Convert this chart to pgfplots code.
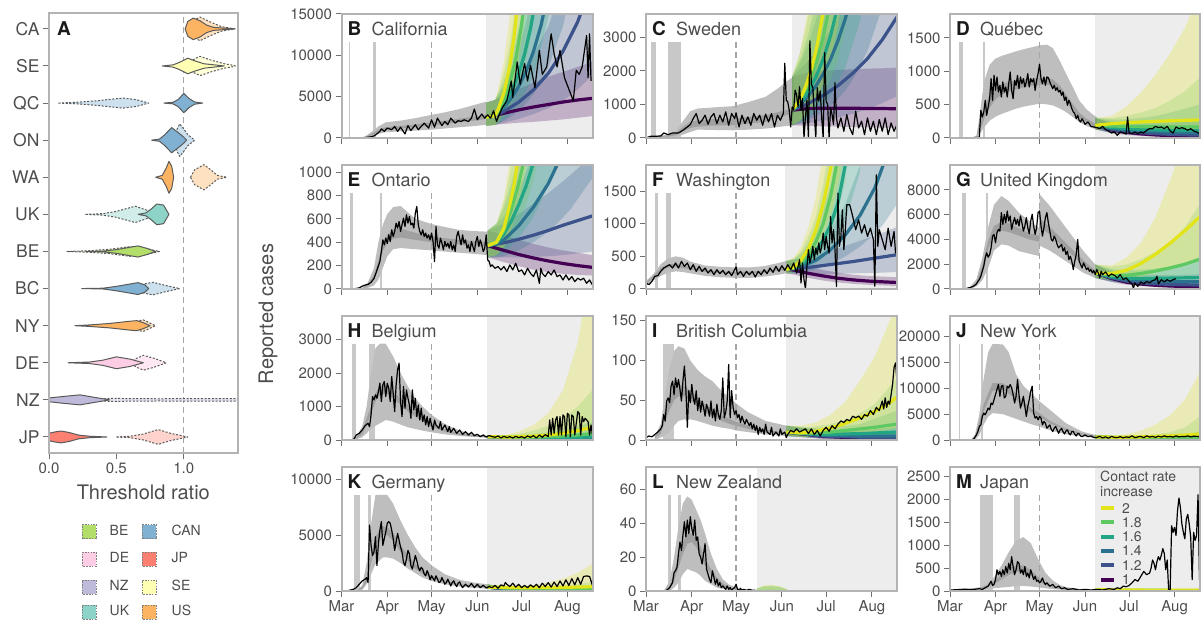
\documentclass[border=0pt]{standalone}
\usepackage{fontspec}
\setmainfont{TeX Gyre Heros}
\usepackage{pgfplots}
\usepackage{pgfplotstable}
\pgfplotsset{compat=1.18}

\definecolor{txt}{HTML}{4D4D4D}
\definecolor{titk}{HTML}{1A1A1A}
\definecolor{framec}{HTML}{B3B3B3}
\definecolor{tickc}{HTML}{707070}
\definecolor{projbg}{HTML}{EDEDED}
\definecolor{barc}{HTML}{C8C8C8}
\definecolor{bandout}{HTML}{BEBEBE}
\definecolor{bandin}{HTML}{A0A0A0}
\definecolor{dashc}{HTML}{A6A6A6}
\definecolor{vline}{HTML}{5A5A5A}
\definecolor{va}{HTML}{440154}
\definecolor{vb}{HTML}{3B528B}
\definecolor{vc}{HTML}{2C728E}
\definecolor{vd}{HTML}{21A585}
\definecolor{ve}{HTML}{5EC962}
\definecolor{vf}{HTML}{E2E418}
\definecolor{cBE}{HTML}{B3DE69}
\definecolor{cDE}{HTML}{FCCDE5}
\definecolor{cNZ}{HTML}{BEBADA}
\definecolor{cUK}{HTML}{8DD3C7}
\definecolor{cCAN}{HTML}{80B1D3}
\definecolor{cJP}{HTML}{FB8072}
\definecolor{cSE}{HTML}{FFFFB3}
\definecolor{cUS}{HTML}{FDB462}

\pgfplotsset{
  panel/.style={
    scale only axis, width=251pt, height=124pt, anchor=north west,
    xmin=0, xmax=170, ymin=0,
    axis on top,
    axis line style={draw=framec, line width=2pt},
    tick align=outside, major tick length=6pt,
    tick style={draw=tickc, line width=1pt},
    xtick={0,31,61,92,122,153}, xticklabels={},
    tick pos=left,
    scaled y ticks=false,
    tick label style={font=\fontsize{15}{15}\selectfont, text=txt},
    /pgf/number format/assume math mode=true,
    /pgf/number format/1000 sep={},
  },
  lastrow/.style={xticklabels={Mar,Apr,May,Jun,Jul,Aug}},
  vsol/.style={draw=vline, line width=1pt, line join=round},
  vdsh/.style={draw=vline, line width=1pt, line join=round, dash pattern=on 2pt off 1.6pt},
}

% build a closed band polygon table: upper edge forward, lower edge backward
\newcommand\mkpoly[4]{%
  \pgfplotstablesort[sort key=t, sort cmp=float <]{#4}{#1}%
  \pgfplotstablesort[sort key=t, sort cmp=float >]{\polyrev}{#1}%
  \pgfplotstablecreatecol[create col/copy=#3]{yy}{#4}%
  \pgfplotstablecreatecol[create col/copy=#2]{yy}{\polyrev}%
  \pgfplotstablevertcat{#4}{\polyrev}%
}
\newcommand\gb[3]{\mkpoly{#1}{olo}{ohi}{#2}\mkpoly{#1}{ilo}{ihi}{#3}}

\newcommand\pproj[2]{\addplot[draw=none, fill=projbg] coordinates {(#1,0) (170,0) (170,#2) (#1,#2)};}
\newcommand\pvbar[3]{\addplot[draw=none, fill=barc] coordinates {(#1,0) (#2,0) (#2,#3) (#1,#3)};}
\newcommand\pmay[1]{\addplot[dashc, line width=1.4pt, dash pattern=on 6pt off 4pt] coordinates {(61,0) (61,#1)};}
\newcommand\pband[2]{\addplot[fill=#2, draw=none] table[x=t,y=yy]{#1};}
\newcommand\pfb[2]{\addplot[fill=#2, fill opacity=0.25, draw=none] table[x=t,y=yy]{#1};}
\newcommand\pfl[2]{\addplot[#2, line width=3.2pt] table[x=t,y=v]{#1};}
\newcommand\pdl[1]{\addplot[black, line width=1.2pt, line join=round] table[x=t,y=v]{#1};}
\newcommand\ptitle[4]{%
  \node[anchor=base west, inner sep=0, font=\fontsize{19}{19}\selectfont\bfseries, text=titk] at ([xshift=6pt]#1pt,#2pt) {#3};
  \node[anchor=base west, inner sep=0, font=\fontsize{18}{18}\selectfont, text=txt] at ([xshift=30pt]#1pt,#2pt) {#4};}

% ================= DATA =================
% ---- B California
\pgfplotstableread[row sep=\\]{
t v\\ 0 0\\ 4 0\\ 8 0\\ 12 20\\ 16 50\\ 20 150\\ 22 250\\ 24 500\\ 26 800\\ 27 1100\\ 29 800\\ 31 1200\\ 34 1000\\ 36 1400\\ 38 800\\ 40 1300\\ 43 500\\ 45 1500\\ 47 900\\ 50 1600\\ 52 1000\\ 54 1400\\ 56 1800\\ 59 1200\\ 61 2200\\ 63 1300\\ 65 2400\\ 68 1500\\ 70 2000\\ 72 1600\\ 74 2400\\ 77 1800\\ 79 2100\\ 81 2000\\ 83 2200\\ 86 2000\\ 88 2400\\ 90 3500\\ 92 2200\\ 95 2900\\ 97 2400\\ 99 2800\\ 101 2400\\ 103 3300\\ 105 2000\\ 106 2450\\ 109 3700\\ 112 4500\\ 115 6900\\ 116 4900\\ 119 9200\\ 121 6500\\ 124 9000\\ 126 6900\\ 128 8800\\ 131 6100\\ 134 10600\\ 136 7700\\ 139 8600\\ 142 12600\\ 144 10200\\ 146 8600\\ 148 10600\\ 151 7300\\ 154 5900\\ 157 4500\\ 159 8200\\ 161 7700\\ 163 8600\\ 166 12400\\ 167 7300\\ 168 12600\\ 169 6900\\
}\dB
\pgfplotstableread[row sep=\\]{
t olo ohi ilo ihi\\ 12 0 0 0 0\\ 16 30 200 60 120\\ 20 200 700 300 450\\ 25 500 1400 750 1000\\ 30 700 1900 1000 1300\\ 40 800 2100 1150 1450\\ 50 900 2400 1300 1650\\ 61 1000 2800 1500 1900\\ 70 1150 3100 1700 2100\\ 80 1300 3500 1900 2350\\ 90 1450 4000 2100 2600\\ 98 1600 4400 2300 2800\\
}\bB
\pgfplotstableread[row sep=\\]{t v lo hi\\ 98 2500 1500 4300\\ 104 2700 1600 4600\\ 110 3000 1700 5100\\ 120 3400 1850 5900\\ 130 3750 1950 6700\\ 140 4050 2100 7400\\ 150 4350 2250 8000\\ 160 4600 2450 8600\\ 170 4800 2650 9200\\}\fBa
\pgfplotstableread[row sep=\\]{t v lo hi\\ 98 2500 1470 4250\\ 104 2700 1590 4590\\ 110 3230 1850 5500\\ 120 4330 2300 7400\\ 130 5820 2900 10000\\ 140 7810 3600 13500\\ 150 10480 4500 18500\\ 160 14070 5900 25000\\ 170 18900 7600 36000\\}\fBb
\pgfplotstableread[row sep=\\]{t v lo hi\\ 98 2500 1470 4250\\ 104 2700 1590 4590\\ 110 3720 2070 6300\\ 115 4820 2600 8300\\ 120 6240 3300 10800\\ 125 8080 4200 14000\\ 130 10450 5300 18000\\ 135 13530 6700 24000\\ 140 17500 8500 31000\\ 150 29000 13500 52000\\ 160 49000 22000 88000\\}\fBc
\pgfplotstableread[row sep=\\]{t v lo hi\\ 98 2500 1470 4250\\ 104 2700 1590 4590\\ 108 3520 2000 6000\\ 112 4590 2550 7800\\ 116 5980 3250 10200\\ 120 7790 4150 13200\\ 124 10150 5300 17300\\ 128 13240 6800 22500\\ 132 17200 8700 29000\\ 140 29000 14500 50000\\ 145 40000 19000 68000\\}\fBd
\pgfplotstableread[row sep=\\]{t v lo hi\\ 98 2500 1470 4250\\ 104 2700 1590 4590\\ 106 3230 1880 5500\\ 110 4640 2650 7900\\ 114 6650 3700 11300\\ 118 9540 5200 16200\\ 122 13700 7300 23300\\ 126 19600 10200 33300\\ 130 28000 14300 47600\\ 136 48000 24000 80000\\}\fBe
\pgfplotstableread[row sep=\\]{t v lo hi\\ 98 2500 1470 4250\\ 104 2700 1590 4590\\ 106 3420 1990 5800\\ 110 5460 3100 9300\\ 114 8710 4800 14800\\ 117 12400 6700 21000\\ 120 17600 9400 30000\\ 124 28000 14600 48000\\ 128 45000 23000 76000\\}\fBf
\gb{\bB}{\qBo}{\qBi}
\mkpoly{\fBa}{lo}{hi}{\qBa}\mkpoly{\fBb}{lo}{hi}{\qBb}\mkpoly{\fBc}{lo}{hi}{\qBc}\mkpoly{\fBd}{lo}{hi}{\qBd}\mkpoly{\fBe}{lo}{hi}{\qBe}\mkpoly{\fBf}{lo}{hi}{\qBf}

% ---- C Sweden
\pgfplotstableread[row sep=\\]{
t v\\ 0 0\\ 3 50\\ 6 50\\ 10 60\\ 12 150\\ 15 100\\ 18 150\\ 22 150\\ 25 230\\ 28 330\\ 30 400\\ 32 580\\ 34 730\\ 36 430\\ 38 530\\ 40 680\\ 42 410\\ 44 630\\ 46 730\\ 48 430\\ 50 680\\ 52 480\\ 54 780\\ 56 380\\ 58 730\\ 60 580\\ 61 750\\ 63 330\\ 65 680\\ 67 430\\ 69 630\\ 71 380\\ 73 730\\ 75 530\\ 77 680\\ 79 380\\ 81 710\\ 83 480\\ 85 730\\ 87 330\\ 89 680\\ 91 530\\ 93 730\\ 94 2230\\ 95 1130\\ 96 1080\\ 97 830\\ 98 330\\ 99 930\\ 100 830\\ 101 1430\\ 102 1280\\ 103 930\\ 104 1530\\ 105 830\\ 106 1180\\ 107 0\\ 108 630\\ 109 1130\\ 110 0\\ 111 2900\\ 112 1600\\ 113 1500\\ 114 700\\ 115 0\\ 116 1500\\ 117 1100\\ 118 1400\\ 119 600\\ 120 0\\ 121 2550\\ 122 1100\\ 123 1000\\ 124 0\\ 125 900\\ 126 700\\ 127 400\\ 128 1650\\ 129 600\\ 130 300\\ 132 600\\ 134 200\\ 136 700\\ 138 300\\ 140 100\\ 142 800\\ 144 300\\ 146 500\\ 148 100\\ 150 600\\ 152 200\\ 154 500\\ 156 100\\ 158 550\\ 160 200\\ 162 600\\ 164 100\\ 166 450\\ 168 200\\ 170 400\\
}\dC
\pgfplotstableread[row sep=\\]{
t olo ohi ilo ihi\\ 2 0 50 30 50\\ 15 0 80 40 80\\ 20 20 200 80 150\\ 25 100 500 200 330\\ 30 180 800 300 480\\ 35 250 880 340 530\\ 45 240 910 370 560\\ 59 230 950 380 580\\ 70 250 1080 430 630\\ 81 280 1230 480 680\\ 90 330 1500 600 780\\ 95 360 1680 680 830\\ 100 380 1830 720 880\\
}\bC
\pgfplotstableread[row sep=\\]{t v lo hi\\ 99 830 380 1830\\ 110 880 360 1950\\ 120 890 350 2000\\ 130 890 340 2030\\ 140 890 330 2050\\ 150 880 320 2070\\ 160 880 310 2080\\ 170 870 300 2100\\}\fCa
\pgfplotstableread[row sep=\\]{t v lo hi\\ 99 830 380 1830\\ 110 1030 450 2300\\ 120 1270 520 2900\\ 130 1560 610 3600\\ 140 1930 720 4500\\ 150 2370 860 5600\\ 160 2930 1040 7000\\ 170 3610 1250 8700\\}\fCb
\pgfplotstableread[row sep=\\]{t v lo hi\\ 99 830 380 1830\\ 105 1030 460 2300\\ 110 1260 550 2800\\ 115 1550 660 3500\\ 120 1910 800 4300\\ 125 2350 960 5300\\ 130 2900 1170 6500\\ 135 3560 1420 8000\\ 140 4400 1740 9900\\ 150 6700 2600 15000\\ 160 10200 3900 23000\\}\fCc
\pgfplotstableread[row sep=\\]{t v lo hi\\ 99 830 380 1830\\ 105 1080 480 2400\\ 110 1400 610 3100\\ 115 1810 780 4000\\ 120 2350 1000 5200\\ 125 3050 1280 6800\\ 130 3950 1640 8800\\ 135 5100 2100 11400\\ 145 8600 3500 19000\\ 150 11000 4400 25000\\}\fCd
\pgfplotstableread[row sep=\\]{t v lo hi\\ 99 830 380 1830\\ 104 1130 500 2500\\ 108 1440 630 3200\\ 112 1840 800 4100\\ 116 2350 1010 5200\\ 120 3000 1280 6700\\ 125 4100 1730 9200\\ 130 5600 2340 12500\\ 140 10400 4300 23000\\}\fCe
\pgfplotstableread[row sep=\\]{t v lo hi\\ 99 830 380 1830\\ 104 1120 500 2500\\ 108 1520 670 3400\\ 112 2050 890 4600\\ 116 2780 1200 6200\\ 120 3770 1610 8400\\ 125 5500 2330 12300\\ 130 8000 3360 17900\\ 135 11700 4800 26000\\}\fCf
\gb{\bC}{\qCo}{\qCi}
\mkpoly{\fCa}{lo}{hi}{\qCa}\mkpoly{\fCb}{lo}{hi}{\qCb}\mkpoly{\fCc}{lo}{hi}{\qCc}\mkpoly{\fCd}{lo}{hi}{\qCd}\mkpoly{\fCe}{lo}{hi}{\qCe}\mkpoly{\fCf}{lo}{hi}{\qCf}

% ---- D Quebec
\pgfplotstableread[row sep=\\]{
t v\\ 0 0\\ 10 0\\ 16 5\\ 19 10\\ 20 15\\ 21 415\\ 22 315\\ 23 390\\ 24 565\\ 25 340\\ 26 465\\ 27 590\\ 28 890\\ 29 565\\ 30 940\\ 31 715\\ 32 915\\ 33 690\\ 34 790\\ 35 615\\ 36 840\\ 37 690\\ 38 765\\ 39 615\\ 40 815\\ 41 990\\ 42 715\\ 43 590\\ 44 865\\ 45 790\\ 46 940\\ 47 740\\ 48 915\\ 49 815\\ 50 890\\ 51 765\\ 52 840\\ 53 965\\ 54 765\\ 55 890\\ 56 840\\ 57 890\\ 58 715\\ 59 865\\ 60 965\\ 61 1105\\ 62 890\\ 63 815\\ 64 915\\ 65 790\\ 66 915\\ 67 905\\ 68 840\\ 69 790\\ 70 740\\ 71 790\\ 72 715\\ 73 755\\ 74 690\\ 75 715\\ 76 640\\ 77 690\\ 78 565\\ 79 615\\ 80 490\\ 81 565\\ 82 515\\ 83 440\\ 84 390\\ 85 365\\ 86 290\\ 87 340\\ 88 265\\ 89 240\\ 90 290\\ 92 205\\ 94 240\\ 96 175\\ 98 165\\ 100 155\\ 102 140\\ 104 175\\ 106 125\\ 108 105\\ 110 75\\ 112 90\\ 114 40\\ 116 90\\ 118 80\\ 120 60\\ 121 315\\ 122 80\\ 124 65\\ 126 90\\ 128 65\\ 130 90\\ 132 75\\ 134 115\\ 136 140\\ 138 140\\ 140 175\\ 142 155\\ 144 165\\ 146 140\\ 148 175\\ 150 105\\ 152 75\\ 154 165\\ 156 140\\ 158 155\\ 160 140\\ 162 115\\ 164 140\\ 166 105\\ 168 90\\ 170 65\\
}\dD
\pgfplotstableread[row sep=\\]{
t olo ohi ilo ihi\\ 14 0 0 0 0\\ 18 5 30 10 20\\ 20 50 300 120 200\\ 22 120 650 200 350\\ 24 180 900 330 500\\ 27 260 1100 450 650\\ 31 320 1190 580 750\\ 35 360 1230 650 800\\ 40 400 1265 700 840\\ 45 440 1300 730 860\\ 50 470 1330 760 880\\ 61 515 1390 800 900\\ 66 505 1400 800 900\\ 70 490 1350 780 880\\ 75 440 1150 680 780\\ 79 390 965 550 650\\ 84 310 750 420 500\\ 88 240 565 300 380\\ 93 180 430 230 290\\ 98 140 340 170 230\\ 100 130 315 160 210\\
}\bD
\pgfplotstableread[row sep=\\]{t v lo hi\\ 99 190 130 300\\ 110 120 70 210\\ 120 85 45 160\\ 130 62 30 125\\ 140 46 22 100\\ 150 35 15 85\\ 160 27 11 70\\ 170 22 9 60\\}\fDa
\pgfplotstableread[row sep=\\]{t v lo hi\\ 99 190 130 300\\ 110 130 75 230\\ 120 100 55 190\\ 130 80 40 165\\ 140 65 30 150\\ 150 55 25 140\\ 160 48 20 130\\ 170 42 18 125\\}\fDb
\pgfplotstableread[row sep=\\]{t v lo hi\\ 99 190 130 300\\ 110 145 85 250\\ 120 120 65 230\\ 130 105 55 220\\ 140 95 45 220\\ 150 88 40 230\\ 160 82 35 250\\ 170 78 30 280\\}\fDc
\pgfplotstableread[row sep=\\]{t v lo hi\\ 99 190 130 300\\ 110 160 95 280\\ 120 140 80 280\\ 130 130 70 300\\ 140 122 60 330\\ 150 116 55 380\\ 160 112 50 440\\ 170 110 45 500\\}\fDd
\pgfplotstableread[row sep=\\]{t v lo hi\\ 99 190 130 300\\ 110 180 110 300\\ 120 175 100 330\\ 130 170 90 380\\ 140 168 80 450\\ 150 166 75 560\\ 160 165 70 700\\ 170 165 65 900\\}\fDe
\pgfplotstableread[row sep=\\]{t v lo hi\\ 99 190 130 300\\ 110 215 130 330\\ 120 230 120 470\\ 130 240 110 680\\ 140 250 105 950\\ 150 258 100 1270\\ 160 265 95 1650\\ 170 270 90 2150\\}\fDf
\gb{\bD}{\qDo}{\qDi}
\mkpoly{\fDa}{lo}{hi}{\qDa}\mkpoly{\fDb}{lo}{hi}{\qDb}\mkpoly{\fDc}{lo}{hi}{\qDc}\mkpoly{\fDd}{lo}{hi}{\qDd}\mkpoly{\fDe}{lo}{hi}{\qDe}\mkpoly{\fDf}{lo}{hi}{\qDf}

% ---- E Ontario
\pgfplotstableread[row sep=\\]{
t v\\ 0 0\\ 8 0\\ 12 10\\ 15 30\\ 18 40\\ 20 57\\ 22 90\\ 24 160\\ 26 235\\ 27 320\\ 28 420\\ 29 377\\ 30 435\\ 31 390\\ 32 463\\ 33 406\\ 34 506\\ 35 449\\ 36 492\\ 37 563\\ 38 520\\ 39 577\\ 40 492\\ 41 549\\ 42 606\\ 43 535\\ 44 635\\ 45 563\\ 46 620\\ 47 549\\ 48 563\\ 49 520\\ 50 649\\ 51 706\\ 52 549\\ 53 492\\ 54 463\\ 55 506\\ 56 449\\ 57 478\\ 58 435\\ 59 463\\ 60 420\\ 61 478\\ 62 406\\ 63 235\\ 64 535\\ 65 377\\ 66 349\\ 67 435\\ 68 392\\ 69 335\\ 70 406\\ 71 363\\ 72 392\\ 73 349\\ 74 406\\ 75 335\\ 76 377\\ 77 320\\ 78 449\\ 79 492\\ 80 435\\ 81 377\\ 82 463\\ 83 392\\ 84 420\\ 85 349\\ 86 377\\ 87 320\\ 88 406\\ 89 363\\ 90 320\\ 91 406\\ 92 449\\ 93 363\\ 94 420\\ 95 377\\ 96 320\\ 97 349\\ 98 463\\ 99 249\\ 100 235\\ 101 192\\ 102 206\\ 104 177\\ 106 192\\ 108 163\\ 110 192\\ 112 149\\ 114 206\\ 116 163\\ 118 220\\ 120 149\\ 122 163\\ 124 120\\ 126 177\\ 128 134\\ 130 106\\ 132 163\\ 134 49\\ 135 177\\ 136 134\\ 138 106\\ 140 149\\ 142 120\\ 144 163\\ 146 106\\ 148 120\\ 150 77\\ 152 120\\ 154 77\\ 156 106\\ 158 63\\ 160 92\\ 162 77\\ 164 92\\ 166 49\\ 168 77\\ 170 34\\
}\dE
\pgfplotstableread[row sep=\\]{
t olo ohi ilo ihi\\ 14 0 10 0 5\\ 18 10 60 25 40\\ 22 30 180 80 120\\ 25 80 400 180 240\\ 28 180 550 330 400\\ 31 280 640 390 460\\ 35 340 700 430 510\\ 40 350 710 440 515\\ 50 340 600 420 480\\ 61 330 555 400 450\\ 70 320 530 390 435\\ 80 310 505 380 420\\ 90 300 495 370 410\\ 99 290 490 360 400\\
}\bE
\pgfplotstableread[row sep=\\]{t v lo hi\\ 99 370 270 500\\ 110 330 230 460\\ 120 295 195 420\\ 130 265 165 385\\ 140 240 145 355\\ 150 218 130 330\\ 160 200 120 310\\ 170 185 115 290\\}\fEa
\pgfplotstableread[row sep=\\]{t v lo hi\\ 99 370 270 500\\ 110 395 270 560\\ 120 425 270 640\\ 130 460 275 730\\ 140 500 280 820\\ 150 545 290 920\\ 160 585 305 1030\\ 170 625 320 1150\\}\fEb
\pgfplotstableread[row sep=\\]{t v lo hi\\ 99 370 270 500\\ 105 385 270 550\\ 110 420 280 620\\ 120 540 330 850\\ 130 700 400 1150\\ 140 900 490 1550\\ 146 1060 560 1850\\ 155 1350 680 2400\\ 170 2000 950 4000\\}\fEc
\pgfplotstableread[row sep=\\]{t v lo hi\\ 99 370 270 500\\ 105 395 280 560\\ 110 470 310 700\\ 115 580 370 900\\ 120 720 440 1150\\ 125 880 520 1450\\ 130 1080 620 1850\\ 140 1600 880 2800\\ 150 2400 1250 4400\\}\fEd
\pgfplotstableread[row sep=\\]{t v lo hi\\ 99 370 270 500\\ 105 400 290 560\\ 110 500 340 740\\ 115 680 440 1050\\ 120 900 560 1450\\ 124 1120 680 1850\\ 130 1600 930 2700\\ 140 2700 1500 4700\\}\fEe
\pgfplotstableread[row sep=\\]{t v lo hi\\ 99 370 270 500\\ 105 400 290 560\\ 110 520 360 780\\ 114 720 480 1100\\ 117 900 590 1400\\ 120 1150 730 1800\\ 125 1700 1050 2700\\ 130 2500 1500 4000\\}\fEf
\gb{\bE}{\qEo}{\qEi}
\mkpoly{\fEa}{lo}{hi}{\qEa}\mkpoly{\fEb}{lo}{hi}{\qEb}\mkpoly{\fEc}{lo}{hi}{\qEc}\mkpoly{\fEd}{lo}{hi}{\qEd}\mkpoly{\fEe}{lo}{hi}{\qEe}\mkpoly{\fEf}{lo}{hi}{\qEf}

% ---- F Washington
\pgfplotstableread[row sep=\\]{
t v\\ 0 92\\ 2 66\\ 4 117\\ 6 194\\ 8 204\\ 10 270\\ 12 321\\ 14 347\\ 16 372\\ 18 321\\ 20 398\\ 22 321\\ 24 423\\ 26 347\\ 28 398\\ 30 296\\ 32 372\\ 34 270\\ 36 347\\ 38 270\\ 40 321\\ 42 245\\ 44 296\\ 46 219\\ 48 296\\ 50 235\\ 52 286\\ 54 219\\ 56 270\\ 58 204\\ 60 296\\ 61 337\\ 62 219\\ 64 270\\ 66 194\\ 68 270\\ 70 219\\ 72 270\\ 74 184\\ 76 270\\ 78 219\\ 80 296\\ 82 235\\ 84 321\\ 86 255\\ 88 347\\ 90 270\\ 92 357\\ 94 286\\ 96 372\\ 98 296\\ 100 398\\ 102 245\\ 104 449\\ 105 92\\ 106 398\\ 107 143\\ 108 0\\ 109 347\\ 110 602\\ 111 398\\ 112 500\\ 113 653\\ 114 449\\ 115 627\\ 116 525\\ 117 704\\ 118 551\\ 119 653\\ 120 857\\ 121 602\\ 122 806\\ 123 653\\ 124 551\\ 125 1112\\ 126 704\\ 127 908\\ 128 602\\ 129 40\\ 130 1469\\ 131 653\\ 132 806\\ 133 1214\\ 134 602\\ 135 908\\ 136 1290\\ 138 1290\\ 140 1112\\ 142 908\\ 144 1061\\ 146 857\\ 148 984\\ 150 806\\ 152 933\\ 154 755\\ 155 40\\ 156 1750\\ 157 653\\ 158 908\\ 160 755\\ 162 602\\ 164 933\\ 166 653\\ 168 882\\ 169 551\\ 170 602\\
}\dF
\pgfplotstableread[row sep=\\]{
t olo ohi ilo ihi\\ 0 60 120 80 100\\ 5 130 230 170 200\\ 10 200 380 270 320\\ 15 250 470 330 380\\ 20 270 500 340 385\\ 25 260 480 320 360\\ 30 240 420 300 340\\ 40 200 360 260 290\\ 50 180 340 240 270\\ 61 170 330 230 260\\ 70 170 330 235 265\\ 80 190 350 250 280\\ 90 220 400 280 310\\ 95 240 430 290 320\\
}\bF
\pgfplotstableread[row sep=\\]{t v lo hi\\ 95 300 240 430\\ 100 290 220 400\\ 110 240 170 340\\ 120 200 130 290\\ 130 165 100 250\\ 140 140 80 220\\ 150 122 65 200\\ 160 110 55 190\\ 170 100 45 180\\}\fFa
\pgfplotstableread[row sep=\\]{t v lo hi\\ 95 300 240 430\\ 110 330 230 480\\ 120 360 230 540\\ 130 390 235 620\\ 140 420 240 700\\ 150 455 245 780\\ 160 490 250 860\\ 170 525 260 950\\}\fFb
\pgfplotstableread[row sep=\\]{t v lo hi\\ 95 300 240 430\\ 105 340 250 480\\ 115 440 300 650\\ 125 600 380 900\\ 135 830 500 1300\\ 145 1130 650 1900\\ 155 1550 850 2700\\ 161 1920 1000 3300\\ 170 2600 1300 4600\\}\fFc
\pgfplotstableread[row sep=\\]{t v lo hi\\ 95 300 240 430\\ 100 320 250 460\\ 105 370 270 540\\ 110 460 320 700\\ 115 580 390 900\\ 120 750 480 1200\\ 125 980 600 1600\\ 130 1320 780 2200\\ 135 1900 1050 3300\\ 145 3500 1800 6000\\}\fFd
\pgfplotstableread[row sep=\\]{t v lo hi\\ 95 300 240 430\\ 100 320 250 460\\ 105 400 290 580\\ 110 530 360 800\\ 115 720 470 1100\\ 120 1000 630 1600\\ 125 1420 860 2300\\ 129 1900 1120 3100\\ 135 2900 1650 4900\\}\fFe
\pgfplotstableread[row sep=\\]{t v lo hi\\ 95 300 240 430\\ 100 330 260 480\\ 105 440 320 650\\ 110 620 430 950\\ 115 900 600 1400\\ 120 1300 830 2100\\ 126 1950 1200 3200\\ 132 3000 1800 5000\\}\fFf
\gb{\bF}{\qFo}{\qFi}
\mkpoly{\fFa}{lo}{hi}{\qFa}\mkpoly{\fFb}{lo}{hi}{\qFb}\mkpoly{\fFc}{lo}{hi}{\qFc}\mkpoly{\fFd}{lo}{hi}{\qFd}\mkpoly{\fFe}{lo}{hi}{\qFe}\mkpoly{\fFf}{lo}{hi}{\qFf}

% ---- G United Kingdom
\pgfplotstableread[row sep=\\]{
t v\\ 0 0\\ 10 0\\ 14 135\\ 16 216\\ 18 405\\ 19 620\\ 20 756\\ 21 1026\\ 22 1431\\ 23 1836\\ 24 2511\\ 25 2916\\ 26 2565\\ 27 2781\\ 28 3321\\ 29 4266\\ 30 4401\\ 31 3726\\ 32 4536\\ 33 4806\\ 34 4671\\ 35 6156\\ 36 5211\\ 37 6021\\ 38 5346\\ 39 6291\\ 40 5481\\ 41 5886\\ 42 4806\\ 43 5346\\ 44 5751\\ 45 5211\\ 46 5616\\ 47 5076\\ 48 5886\\ 49 5346\\ 50 4671\\ 51 5076\\ 52 5751\\ 53 4941\\ 54 4455\\ 55 5481\\ 56 6021\\ 57 5076\\ 58 4401\\ 59 4941\\ 60 6156\\ 61 6291\\ 62 5076\\ 63 4266\\ 64 4941\\ 65 5751\\ 66 6156\\ 67 5346\\ 68 4671\\ 69 3996\\ 70 3861\\ 71 4266\\ 72 3996\\ 73 3591\\ 74 3321\\ 75 3456\\ 76 3591\\ 77 3051\\ 78 3321\\ 79 2781\\ 80 3051\\ 81 2376\\ 82 2646\\ 83 2241\\ 84 1566\\ 85 2241\\ 86 2781\\ 87 3996\\ 88 2241\\ 89 1971\\ 90 1701\\ 91 2106\\ 92 1836\\ 93 1566\\ 94 1701\\ 95 1431\\ 96 1566\\ 97 1296\\ 98 1485\\ 99 1161\\ 100 1566\\ 101 1296\\ 102 891\\ 103 1431\\ 104 1161\\ 106 1377\\ 108 1026\\ 110 1215\\ 112 1107\\ 114 891\\ 116 1161\\ 118 756\\ 120 891\\ 122 621\\ 124 405\\ 125 81\\ 126 486\\ 128 216\\ 130 567\\ 132 405\\ 134 621\\ 136 486\\ 138 675\\ 140 756\\ 141 1026\\ 142 405\\ 144 756\\ 146 567\\ 148 756\\ 150 621\\ 152 756\\ 154 837\\
}\dG
\pgfplotstableread[row sep=\\]{
t olo ohi ilo ihi\\ 10 0 0 0 0\\ 14 50 200 80 150\\ 18 200 800 350 550\\ 22 700 2500 1300 1900\\ 26 1700 5000 3200 3900\\ 30 3100 6800 4400 5100\\ 35 3600 7500 4700 5400\\ 40 3500 7100 4600 5300\\ 47 3050 6150 4300 4900\\ 54 2850 5500 4000 4500\\ 60.9 2650 4900 3800 4300\\ 61 3500 7640 5000 5700\\ 68 3100 6700 4400 5000\\ 79 2240 4940 3200 3700\\ 91 1300 3050 1900 2300\\ 99 890 1970 1300 1500\\
}\bG
\pgfplotstableread[row sep=\\]{t v lo hi\\ 99 1300 890 1970\\ 110 850 560 1300\\ 120 560 350 900\\ 130 400 240 680\\ 140 300 170 540\\ 150 240 130 450\\ 160 200 100 390\\ 170 170 80 350\\}\fGa
\pgfplotstableread[row sep=\\]{t v lo hi\\ 99 1300 890 1970\\ 110 900 590 1400\\ 120 650 400 1050\\ 130 500 290 850\\ 140 420 230 740\\ 150 370 190 680\\ 160 340 170 650\\ 170 320 150 640\\}\fGb
\pgfplotstableread[row sep=\\]{t v lo hi\\ 99 1300 890 1970\\ 110 950 620 1500\\ 120 750 450 1250\\ 130 660 370 1150\\ 140 620 330 1120\\ 150 600 300 1130\\ 160 590 280 1150\\ 170 580 270 1200\\}\fGc
\pgfplotstableread[row sep=\\]{t v lo hi\\ 99 1300 890 1970\\ 110 1000 650 1600\\ 120 880 530 1500\\ 130 850 480 1550\\ 140 860 460 1650\\ 150 880 450 1800\\ 160 900 440 2000\\ 170 920 430 2300\\}\fGd
\pgfplotstableread[row sep=\\]{t v lo hi\\ 99 1300 890 1970\\ 110 1100 700 1800\\ 120 1100 650 1970\\ 130 1250 700 2400\\ 140 1450 780 3000\\ 150 1700 880 3700\\ 160 2000 1000 5000\\ 170 2400 1150 6800\\}\fGe
\pgfplotstableread[row sep=\\]{t v lo hi\\ 99 1300 890 1970\\ 110 1250 750 1900\\ 120 1500 800 2500\\ 130 2050 1000 3700\\ 140 2800 1300 5800\\ 150 3700 1650 8800\\ 160 4700 2050 12000\\ 170 5800 2500 16000\\}\fGf
\gb{\bG}{\qGo}{\qGi}
\mkpoly{\fGa}{lo}{hi}{\qGa}\mkpoly{\fGb}{lo}{hi}{\qGb}\mkpoly{\fGc}{lo}{hi}{\qGc}\mkpoly{\fGd}{lo}{hi}{\qGd}\mkpoly{\fGe}{lo}{hi}{\qGe}\mkpoly{\fGf}{lo}{hi}{\qGf}

% ---- H Belgium
\pgfplotstableread[row sep=\\]{
t v\\ 0 0\\ 8 0\\ 10 150\\ 12 200\\ 14 300\\ 16 430\\ 18 500\\ 19 400\\ 20 750\\ 21 1300\\ 22 1200\\ 23 1350\\ 24 1250\\ 25 1450\\ 26 1700\\ 27 1150\\ 28 1650\\ 29 1750\\ 30 1300\\ 31 1700\\ 32 1550\\ 33 1150\\ 34 1900\\ 35 1400\\ 36 850\\ 37 1650\\ 38 2100\\ 39 2300\\ 40 1150\\ 41 700\\ 42 1600\\ 43 950\\ 44 1500\\ 45 1250\\ 46 1050\\ 47 650\\ 48 1500\\ 49 900\\ 50 1250\\ 51 700\\ 52 1050\\ 53 600\\ 54 950\\ 55 550\\ 56 750\\ 57 450\\ 58 700\\ 59 400\\ 60 650\\ 61 450\\ 62 300\\ 63 600\\ 64 450\\ 66 350\\ 67 550\\ 68 300\\ 70 450\\ 72 250\\ 73 400\\ 74 230\\ 76 350\\ 78 200\\ 80 300\\ 82 170\\ 84 250\\ 86 150\\ 88 230\\ 90 130\\ 92 170\\ 94 100\\ 96 150\\ 98 90\\ 100 130\\ 104 80\\ 106 120\\ 108 60\\ 110 110\\ 112 70\\ 114 100\\ 116 60\\ 118 110\\ 120 70\\ 122 100\\ 124 60\\ 126 120\\ 128 80\\ 130 130\\ 132 60\\ 134 150\\ 136 80\\ 138 160\\ 140 100\\ 141 600\\ 142 150\\ 143 650\\ 144 200\\ 145 600\\ 146 700\\ 147 150\\ 148 700\\ 149 150\\ 150 750\\ 151 700\\ 152 100\\ 153 800\\ 154 750\\ 155 100\\ 156 750\\ 157 700\\ 158 150\\ 160 850\\ 161 800\\ 162 150\\ 163 700\\ 164 550\\ 165 650\\ 167 550\\ 168 150\\ 169 450\\ 170 150\\
}\dH
\pgfplotstableread[row sep=\\]{
t olo ohi ilo ihi\\ 5 0 0 0 0\\ 10 20 100 40 70\\ 14 80 400 160 280\\ 17 200 1000 450 650\\ 20 350 2000 800 1000\\ 23 420 2750 1150 1400\\ 26 500 2880 1350 1600\\ 30 600 2880 1400 1650\\ 35 550 2500 1250 1450\\ 40 460 2000 1050 1250\\ 45 380 1600 850 1050\\ 50 330 1250 700 850\\ 55 280 1000 560 690\\ 61 230 750 400 500\\ 70 170 480 250 320\\ 80 120 280 150 200\\ 90 90 170 100 130\\ 99 70 120 80 110\\
}\bH
\pgfplotstableread[row sep=\\]{t v lo hi\\ 99 100 70 120\\ 110 65 32 95\\ 120 48 19 80\\ 130 36 12 70\\ 140 28 8 60\\ 150 22 6 55\\ 160 18 4 50\\ 170 15 3 45\\}\fHa
\pgfplotstableread[row sep=\\]{t v lo hi\\ 99 100 70 120\\ 110 70 35 100\\ 120 55 22 95\\ 130 45 15 90\\ 140 37 10 85\\ 150 32 8 85\\ 160 29 6 85\\ 170 27 5 90\\}\fHb
\pgfplotstableread[row sep=\\]{t v lo hi\\ 99 100 70 120\\ 110 75 38 110\\ 120 62 25 110\\ 130 55 18 120\\ 140 50 14 130\\ 150 48 12 140\\ 160 47 10 160\\ 170 46 9 180\\}\fHc
\pgfplotstableread[row sep=\\]{t v lo hi\\ 99 100 70 120\\ 110 80 40 120\\ 120 70 30 140\\ 130 68 25 180\\ 140 70 22 230\\ 150 75 20 300\\ 160 82 20 400\\ 170 90 20 550\\}\fHd
\pgfplotstableread[row sep=\\]{t v lo hi\\ 99 100 70 120\\ 110 85 45 130\\ 120 80 35 180\\ 130 85 30 280\\ 140 100 30 420\\ 150 120 35 650\\ 160 150 40 1000\\ 170 190 50 1500\\}\fHe
\pgfplotstableread[row sep=\\]{t v lo hi\\ 99 100 70 120\\ 110 90 50 140\\ 120 95 40 250\\ 130 115 40 450\\ 140 150 45 800\\ 150 200 55 1500\\ 160 280 70 2900\\ 170 390 90 5500\\}\fHf
\gb{\bH}{\qHo}{\qHi}
\mkpoly{\fHa}{lo}{hi}{\qHa}\mkpoly{\fHb}{lo}{hi}{\qHb}\mkpoly{\fHc}{lo}{hi}{\qHc}\mkpoly{\fHd}{lo}{hi}{\qHd}\mkpoly{\fHe}{lo}{hi}{\qHe}\mkpoly{\fHf}{lo}{hi}{\qHf}

% ---- I British Columbia
\pgfplotstableread[row sep=\\]{
t v\\ 0 3\\ 2 5\\ 4 4\\ 6 7\\ 8 10\\ 10 14\\ 11 18\\ 12 32\\ 13 24\\ 14 49\\ 15 53\\ 16 47\\ 17 68\\ 18 74\\ 19 57\\ 20 78\\ 21 66\\ 22 76\\ 23 64\\ 24 49\\ 25 74\\ 26 93\\ 27 64\\ 28 16\\ 29 62\\ 30 47\\ 31 70\\ 32 53\\ 33 45\\ 34 62\\ 35 37\\ 36 53\\ 37 35\\ 38 49\\ 39 41\\ 40 30\\ 41 45\\ 42 39\\ 43 30\\ 44 49\\ 45 28\\ 46 39\\ 47 24\\ 48 45\\ 49 32\\ 50 26\\ 51 37\\ 52 78\\ 53 28\\ 54 35\\ 55 49\\ 56 95\\ 57 28\\ 58 62\\ 59 41\\ 60 32\\ 61 37\\ 62 28\\ 63 32\\ 64 22\\ 65 30\\ 66 24\\ 67 20\\ 68 26\\ 70 18\\ 71 22\\ 72 14\\ 73 20\\ 74 12\\ 75 18\\ 76 7\\ 77 16\\ 78 10\\ 79 14\\ 80 7\\ 81 20\\ 82 10\\ 84 7\\ 85 16\\ 86 5\\ 88 10\\ 90 5\\ 91 14\\ 92 7\\ 94 10\\ 95 3\\ 96 7\\ 98 12\\ 100 10\\ 102 14\\ 104 10\\ 106 12\\ 108 14\\ 110 8\\ 112 14\\ 114 7\\ 116 12\\ 118 5\\ 120 12\\ 122 16\\ 124 11\\ 126 18\\ 128 14\\ 130 20\\ 132 24\\ 134 22\\ 136 26\\ 138 24\\ 140 30\\ 142 28\\ 144 30\\ 146 26\\ 148 32\\ 150 30\\ 152 37\\ 154 32\\ 156 41\\ 158 37\\ 160 49\\ 161 39\\ 162 53\\ 163 41\\ 164 49\\ 165 45\\ 166 57\\ 167 70\\ 168 91\\ 169 97\\ 170 74\\
}\dI
\pgfplotstableread[row sep=\\]{
t olo ohi ilo ihi\\ 6 0 5 2 4\\ 10 3 20 8 14\\ 13 6 60 25 40\\ 16 10 90 38 55\\ 19 18 112 50 66\\ 22 24 118 55 70\\ 26 26 115 55 68\\ 30 26 100 50 62\\ 35 24 88 42 53\\ 40 21 80 35 45\\ 45 18 74 30 38\\ 50 16 64 25 32\\ 57 14 53 20 26\\ 61 12 46 18 23\\ 69 10 35 14 18\\ 81 7 24 10 13\\ 95 5 18 7 9\\
}\bI
\pgfplotstableread[row sep=\\]{t v lo hi\\ 95 10 5 18\\ 120 4.5 1.5 10\\ 145 2.5 0.8 6\\ 170 1.8 0.5 5\\}\fIa
\pgfplotstableread[row sep=\\]{t v lo hi\\ 95 10 5 18\\ 120 5 1.8 11\\ 145 3.5 1.1 8\\ 170 3 0.8 8\\}\fIb
\pgfplotstableread[row sep=\\]{t v lo hi\\ 95 10 5 18\\ 120 6 2 12\\ 145 5 1.5 12\\ 170 5 1.2 16\\}\fIc
\pgfplotstableread[row sep=\\]{t v lo hi\\ 95 10 5 18\\ 120 7 2.5 14\\ 145 8 2.5 20\\ 170 10 2.5 37\\}\fId
\pgfplotstableread[row sep=\\]{t v lo hi\\ 95 10 5 18\\ 110 8 3.5 16\\ 125 10 3.5 20\\ 140 13 4 28\\ 155 16 4.5 45\\ 170 20 5 78\\}\fIe
\pgfplotstableread[row sep=\\]{t v lo hi\\ 95 10 5 18\\ 105 9 4 18\\ 115 11 4 22\\ 125 15 5 32\\ 135 21 6 48\\ 145 28 8 75\\ 155 36 10 105\\ 165 47 13 150\\ 170 54 15 180\\}\fIf
\gb{\bI}{\qIo}{\qIi}
\mkpoly{\fIa}{lo}{hi}{\qIa}\mkpoly{\fIb}{lo}{hi}{\qIb}\mkpoly{\fIc}{lo}{hi}{\qIc}\mkpoly{\fId}{lo}{hi}{\qId}\mkpoly{\fIe}{lo}{hi}{\qIe}\mkpoly{\fIf}{lo}{hi}{\qIf}

% ---- J New York
\pgfplotstableread[row sep=\\]{
t v\\ 0 0\\ 14 0\\ 16 130\\ 18 980\\ 19 1630\\ 20 2600\\ 21 2930\\ 22 4560\\ 23 5200\\ 24 4880\\ 25 5530\\ 26 6180\\ 27 5860\\ 28 7160\\ 29 6840\\ 30 7810\\ 31 8790\\ 32 9770\\ 33 10740\\ 34 8460\\ 35 10420\\ 36 10550\\ 37 8140\\ 38 8460\\ 39 10420\\ 40 10090\\ 41 10740\\ 42 10090\\ 43 8790\\ 44 7160\\ 45 8460\\ 46 11720\\ 47 8790\\ 48 6180\\ 49 7160\\ 50 8460\\ 51 6510\\ 52 4560\\ 53 6510\\ 54 7810\\ 55 9440\\ 56 10420\\ 57 5200\\ 58 4230\\ 59 4560\\ 60 3900\\ 61 4560\\ 62 4230\\ 63 2930\\ 64 3580\\ 65 3250\\ 66 2280\\ 67 2600\\ 68 2930\\ 69 2080\\ 70 1630\\ 71 2280\\ 72 2600\\ 73 1950\\ 74 1300\\ 75 1950\\ 76 2210\\ 77 1630\\ 78 1170\\ 79 1760\\ 80 1950\\ 81 1300\\ 82 980\\ 83 1630\\ 84 1630\\ 85 1110\\ 86 780\\ 87 1300\\ 88 1170\\ 89 780\\ 90 650\\ 92 980\\ 94 650\\ 96 780\\ 98 460\\ 100 500\\ 102 700\\ 104 400\\ 106 600\\ 108 350\\ 110 700\\ 112 500\\ 114 450\\ 116 650\\ 118 400\\ 120 600\\ 122 500\\ 124 800\\ 126 450\\ 128 600\\ 130 700\\ 132 450\\ 134 800\\ 136 550\\ 138 700\\ 140 500\\ 142 750\\ 144 550\\ 146 800\\ 148 600\\ 150 700\\ 152 550\\ 154 800\\ 156 600\\ 158 700\\ 160 650\\ 162 800\\ 164 600\\ 166 750\\ 168 700\\ 170 650\\
}\dJ
\pgfplotstableread[row sep=\\]{
t olo ohi ilo ihi\\ 14 0 0 0 0\\ 17 0 1000 300 600\\ 20 1000 5000 2500 3500\\ 23 3000 12000 5500 7000\\ 26 4500 17000 7500 9000\\ 29 5200 18600 9500 11000\\ 36 5000 18500 9800 11000\\ 40 4600 17000 9000 10200\\ 45 4100 12700 7800 9000\\ 50 3600 10500 6500 7500\\ 56 3000 8800 5200 6000\\ 61 2600 7500 4500 5200\\ 68 1900 5860 3200 3700\\ 79 1100 3250 1900 2200\\ 90 700 1630 1100 1300\\ 99 450 980 680 820\\
}\bJ
\pgfplotstableread[row sep=\\]{t v lo hi\\ 99 600 450 980\\ 110 410 270 680\\ 120 340 190 560\\ 130 260 130 460\\ 140 200 95 400\\ 150 160 70 340\\ 160 130 55 300\\ 170 100 40 260\\}\fJa
\pgfplotstableread[row sep=\\]{t v lo hi\\ 99 600 450 980\\ 110 430 280 700\\ 120 370 200 600\\ 130 290 150 520\\ 140 250 110 470\\ 150 200 90 420\\ 160 170 75 400\\ 170 150 60 380\\}\fJb
\pgfplotstableread[row sep=\\]{t v lo hi\\ 99 600 450 980\\ 110 450 290 720\\ 120 400 220 650\\ 130 340 170 600\\ 140 300 140 580\\ 150 270 115 580\\ 160 250 100 600\\ 170 230 90 650\\}\fJc
\pgfplotstableread[row sep=\\]{t v lo hi\\ 99 600 450 980\\ 110 470 300 760\\ 120 430 240 700\\ 130 400 200 720\\ 140 380 170 780\\ 150 365 150 860\\ 160 355 135 1000\\ 170 350 125 1600\\}\fJd
\pgfplotstableread[row sep=\\]{t v lo hi\\ 99 600 450 980\\ 110 500 320 800\\ 120 480 260 800\\ 130 470 230 900\\ 140 480 210 1100\\ 150 500 200 1500\\ 160 520 190 2400\\ 170 550 190 4500\\}\fJe
\pgfplotstableread[row sep=\\]{t v lo hi\\ 99 600 450 980\\ 110 550 350 900\\ 120 550 300 1100\\ 130 600 280 1800\\ 140 680 280 3000\\ 150 800 300 4800\\ 160 950 330 7800\\ 170 1150 380 13000\\}\fJf
\gb{\bJ}{\qJo}{\qJi}
\mkpoly{\fJa}{lo}{hi}{\qJa}\mkpoly{\fJb}{lo}{hi}{\qJb}\mkpoly{\fJc}{lo}{hi}{\qJc}\mkpoly{\fJd}{lo}{hi}{\qJd}\mkpoly{\fJe}{lo}{hi}{\qJe}\mkpoly{\fJf}{lo}{hi}{\qJf}

% ---- K Germany
\pgfplotstableread[row sep=\\]{
t v\\ 0 0\\ 4 20\\ 8 150\\ 10 300\\ 12 600\\ 14 900\\ 16 1060\\ 17 1200\\ 18 760\\ 19 5900\\ 20 4100\\ 21 3180\\ 22 3480\\ 23 4850\\ 24 2270\\ 25 4240\\ 26 5450\\ 27 6210\\ 28 4090\\ 29 4700\\ 30 5300\\ 31 6060\\ 32 6210\\ 33 6060\\ 34 5450\\ 35 4700\\ 36 3640\\ 37 4390\\ 38 5150\\ 39 4550\\ 40 3940\\ 41 3480\\ 42 2580\\ 43 2270\\ 44 2880\\ 45 3640\\ 46 3330\\ 47 2270\\ 48 1970\\ 49 2580\\ 50 3180\\ 51 2730\\ 52 2120\\ 53 1820\\ 54 2120\\ 55 1970\\ 56 1520\\ 57 1360\\ 58 1820\\ 59 1520\\ 60 1000\\ 61 1360\\ 62 1120\\ 63 910\\ 64 1360\\ 65 1060\\ 66 760\\ 67 820\\ 68 1210\\ 69 910\\ 70 610\\ 71 760\\ 72 1060\\ 73 760\\ 74 450\\ 75 760\\ 76 910\\ 77 610\\ 78 390\\ 79 700\\ 80 820\\ 81 520\\ 82 300\\ 84 610\\ 86 360\\ 88 670\\ 90 300\\ 92 610\\ 94 300\\ 96 520\\ 98 270\\ 100 400\\ 102 300\\ 104 500\\ 106 250\\ 108 550\\ 110 450\\ 111 760\\ 112 600\\ 114 400\\ 116 700\\ 118 350\\ 120 600\\ 122 300\\ 124 500\\ 126 300\\ 128 550\\ 130 350\\ 132 600\\ 134 300\\ 136 700\\ 138 400\\ 140 750\\ 142 350\\ 144 800\\ 146 400\\ 148 900\\ 150 450\\ 152 1000\\ 154 500\\ 156 1100\\ 158 550\\ 160 1200\\ 162 600\\ 164 1300\\ 166 1350\\ 168 1300\\ 170 500\\
}\dK
\pgfplotstableread[row sep=\\]{
t olo ohi ilo ihi\\ 10 0 0 0 0\\ 14 100 500 200 350\\ 17 600 2500 800 1200\\ 20 1500 6000 2500 3200\\ 23 2400 8600 4000 4900\\ 28 3000 8600 5000 5800\\ 31 3000 8600 5000 5700\\ 35 2900 7800 4500 5200\\ 40 2500 6300 3500 4100\\ 45 2000 5000 2700 3200\\ 50 1600 3900 2000 2400\\ 55 1200 3000 1550 1850\\ 61 900 2300 1200 1400\\ 70 600 1500 800 950\\ 80 400 1000 500 600\\ 90 280 750 380 460\\ 99 200 600 300 380\\
}\bK
\pgfplotstableread[row sep=\\]{t v lo hi\\ 99 350 200 600\\ 110 210 85 300\\ 120 130 40 200\\ 130 80 20 150\\ 140 55 12 110\\ 150 38 7 85\\ 160 28 5 70\\ 170 20 3 60\\}\fKa
\pgfplotstableread[row sep=\\]{t v lo hi\\ 99 350 200 600\\ 110 230 90 320\\ 120 150 45 230\\ 130 100 25 180\\ 140 70 15 140\\ 150 50 10 120\\ 160 40 7 100\\ 170 30 5 90\\}\fKb
\pgfplotstableread[row sep=\\]{t v lo hi\\ 99 350 200 600\\ 110 250 95 340\\ 120 170 50 260\\ 130 120 30 220\\ 140 90 20 190\\ 150 70 14 170\\ 160 60 11 160\\ 170 50 9 160\\}\fKc
\pgfplotstableread[row sep=\\]{t v lo hi\\ 99 350 200 600\\ 110 270 100 360\\ 120 200 55 300\\ 130 150 35 280\\ 140 130 25 270\\ 150 110 20 270\\ 160 100 17 290\\ 170 90 15 320\\}\fKd
\pgfplotstableread[row sep=\\]{t v lo hi\\ 99 350 200 600\\ 110 290 110 380\\ 120 230 60 350\\ 130 200 45 360\\ 140 180 35 420\\ 150 165 30 500\\ 160 155 25 620\\ 170 150 22 800\\}\fKe
\pgfplotstableread[row sep=\\]{t v lo hi\\ 99 350 200 600\\ 110 320 120 400\\ 120 300 80 420\\ 130 300 60 500\\ 140 310 50 760\\ 150 330 45 1100\\ 160 350 40 1650\\ 170 380 40 2420\\}\fKf
\gb{\bK}{\qKo}{\qKi}
\mkpoly{\fKa}{lo}{hi}{\qKa}\mkpoly{\fKb}{lo}{hi}{\qKb}\mkpoly{\fKc}{lo}{hi}{\qKc}\mkpoly{\fKd}{lo}{hi}{\qKd}\mkpoly{\fKe}{lo}{hi}{\qKe}\mkpoly{\fKf}{lo}{hi}{\qKf}

% ---- L New Zealand
\pgfplotstableread[row sep=\\]{
t v\\ 13 0\\ 14 0.4\\ 16 2\\ 18 5\\ 19 11\\ 20 12\\ 21 14\\ 22 22\\ 23 29\\ 24 24\\ 25 33\\ 26 41\\ 27 32\\ 28 42\\ 29 34\\ 30 44\\ 31 37\\ 32 33\\ 33 42\\ 34 30\\ 35 32\\ 36 22\\ 37 20\\ 38 16\\ 39 22\\ 40 28\\ 41 13\\ 42 10\\ 43 7\\ 44 5\\ 45 12\\ 46 8\\ 47 4\\ 48 7\\ 49 3\\ 50 5\\ 51 2\\ 52 3\\ 53 2\\ 54 1\\ 55 3\\ 56 1\\ 57 2\\ 58 0.4\\ 59 1.4\\ 60 2\\ 61 4\\ 62 1\\ 63 0.4\\ 64 1.6\\ 65 0.4\\ 66 1\\ 68 0.4\\ 70 1\\ 72 0.4\\ 74 0.4\\
}\dL
\pgfplotstableread[row sep=\\]{
t olo ohi ilo ihi\\ 12 0 0 0 0\\ 16 0 6 1 3\\ 19 2 20 6 11\\ 22 5 38 14 20\\ 25 10 52 22 29\\ 28 13 56 28 34\\ 31 12 54 29 34\\ 34 11 48 26 31\\ 37 9 42 21 26\\ 40 6 34 15 19\\ 44 4 22 10 13\\ 48 2 13 6 8\\ 52 1.2 7 3 4.5\\ 56 0.6 4 1.8 2.5\\ 61 0.3 2 1 1.3\\ 66 0.1 1 0.5 0.7\\
}\bL
\pgfplotstableread[row sep=\\]{t v lo hi\\ 75 1 0.5 1.4\\ 80 1.3 0.5 2.6\\ 85 1.3 0.5 2.8\\ 90 1 0.3 2.4\\ 95 0.4 0 1\\ 97 0.1 0 0.2\\}\fLd
\pgfplotstableread[row sep=\\]{t v lo hi\\ 75 1 0.5 1.5\\ 80 1.5 0.5 3\\ 85 1.5 0.5 3.2\\ 90 1.2 0.3 2.8\\ 95 0.5 0 1.2\\ 97 0.1 0 0.2\\}\fLe
\pgfplotstableread[row sep=\\]{t v lo hi\\ 75 1 0.5 1.5\\ 80 1.6 0.5 3.4\\ 85 1.7 0.6 3.6\\ 90 1.4 0.4 3\\ 95 0.6 0 1.4\\ 97 0.1 0 0.2\\}\fLf
\gb{\bL}{\qLo}{\qLi}
\mkpoly{\fLd}{lo}{hi}{\qLd}\mkpoly{\fLe}{lo}{hi}{\qLe}\mkpoly{\fLf}{lo}{hi}{\qLf}

% ---- M Japan
\pgfplotstableread[row sep=\\]{
t v\\ 0 20\\ 5 30\\ 10 40\\ 15 30\\ 20 50\\ 22 36\\ 24 71\\ 26 107\\ 28 214\\ 29 121\\ 30 143\\ 31 250\\ 32 464\\ 33 357\\ 34 428\\ 35 321\\ 36 464\\ 37 357\\ 38 536\\ 39 393\\ 40 607\\ 41 464\\ 42 750\\ 43 536\\ 44 357\\ 45 464\\ 46 643\\ 47 607\\ 48 393\\ 49 464\\ 50 357\\ 51 536\\ 52 321\\ 53 393\\ 54 286\\ 55 464\\ 56 357\\ 57 250\\ 58 321\\ 59 214\\ 60 236\\ 61 178\\ 62 214\\ 63 286\\ 64 193\\ 65 143\\ 66 178\\ 68 107\\ 70 143\\ 72 71\\ 74 107\\ 76 50\\ 78 71\\ 80 36\\ 84 50\\ 88 21\\ 92 36\\ 96 21\\ 100 36\\ 104 21\\ 108 50\\ 112 36\\ 114 71\\ 116 50\\ 118 107\\ 120 93\\ 122 121\\ 124 178\\ 126 250\\ 128 214\\ 130 321\\ 132 428\\ 134 357\\ 136 393\\ 137 500\\ 138 678\\ 139 607\\ 140 464\\ 141 643\\ 142 750\\ 143 678\\ 144 786\\ 145 928\\ 146 821\\ 147 464\\ 148 678\\ 149 0\\ 150 36\\ 151 1428\\ 152 1285\\ 153 1393\\ 154 1214\\ 155 1750\\ 156 2035\\ 157 1821\\ 158 1464\\ 159 1285\\ 160 1142\\ 161 1571\\ 162 1678\\ 163 1464\\ 164 1178\\ 165 250\\ 166 1285\\ 167 1107\\ 168 1214\\ 169 2107\\ 170 250\\
}\dM
\pgfplotstableread[row sep=\\]{
t olo ohi ilo ihi\\ 0 10 30 15 25\\ 10 10 40 20 30\\ 20 30 80 40 60\\ 25 40 150 80 120\\ 30 60 300 150 220\\ 35 75 550 250 350\\ 40 90 850 350 480\\ 45 105 1100 420 560\\ 50 110 1180 430 560\\ 55 100 1050 350 460\\ 60 80 700 230 310\\ 65 60 400 130 180\\ 70 40 230 70 100\\ 75 30 130 45 65\\ 80 20 80 30 45\\ 90 15 40 20 30\\ 99 10 30 15 22\\
}\bM
\pgfplotstableread[row sep=\\]{t v lo hi\\ 99 20 10 40\\ 105 25 12 50\\ 115 20 8 38\\ 130 16 6 30\\ 150 14 5 25\\ 170 13 4 22\\}\fMe
\pgfplotstableread[row sep=\\]{t v lo hi\\ 99 20 10 40\\ 105 30 15 60\\ 115 25 10 45\\ 130 20 8 35\\ 150 18 6 32\\ 170 18 5 30\\}\fMf
\gb{\bM}{\qMo}{\qMi}
\mkpoly{\fMe}{lo}{hi}{\qMe}\mkpoly{\fMf}{lo}{hi}{\qMf}

\begin{document}
\begin{tikzpicture}
\path (0pt,0pt) rectangle (1202pt,619pt);

% ================= PANEL A =================
\begin{axis}[at={(49pt,165.7pt)}, anchor=south west, scale only axis, width=188.7pt, height=440pt,
  xmin=0, xmax=1.4, ymin=0.56, ymax=12.42,
  axis on top, axis line style={draw=framec, line width=2pt},
  tick align=outside, major tick length=6pt, tick style={draw=tickc, line width=1pt}, tick pos=left,
  xtick={0,0.5,1}, xticklabels={0.0,0.5,1.0},
  ytick={1,2,3,4,5,6,7,8,9,10,11,12},
  yticklabels={JP,NZ,DE,NY,BC,BE,UK,WA,ON,QC,SE,CA},
  xticklabel style={font=\fontsize{15}{15}\selectfont, text=txt},
  yticklabel style={font=\fontsize{17.5}{17.5}\selectfont, text=txt},
]
\addplot[dashc, line width=1.4pt, dash pattern=on 6pt off 4pt] coordinates {(1,0.56) (1,12.42)};
\addplot[vdsh, fill=cUS!40!white] coordinates {(1.02,12) (1.06,12.2) (1.12,12.32) (1.2,12.18) (1.28,12.06) (1.38,12) (1.28,11.94) (1.2,11.82) (1.12,11.68) (1.06,11.8) (1.02,12)};
\addplot[vsol, fill=cUS] coordinates {(1.01,12) (1.03,12.2) (1.07,12.29) (1.12,12.22) (1.17,12.1) (1.22,12.04) (1.3,12.02) (1.38,12) (1.3,11.98) (1.22,11.96) (1.17,11.9) (1.12,11.78) (1.07,11.71) (1.03,11.8) (1.01,12)};
\addplot[vdsh, fill=cSE!50!white] coordinates {(0.97,11) (1.04,11.12) (1.12,11.26) (1.2,11.16) (1.3,11.06) (1.38,11.01) (1.38,10.99) (1.3,10.94) (1.2,10.84) (1.12,10.74) (1.04,10.88) (0.97,11)};
\addplot[vsol, fill=cSE] coordinates {(0.84,11) (0.92,11.03) (0.97,11.1) (1.03,11.21) (1.08,11.14) (1.15,11.06) (1.25,11.02) (1.3,11) (1.25,10.98) (1.15,10.94) (1.08,10.86) (1.03,10.79) (0.97,10.9) (0.92,10.97) (0.84,11)};
\addplot[vdsh, fill=cCAN!40!white] coordinates {(0.07,10) (0.2,10.02) (0.35,10.06) (0.45,10.1) (0.55,10.135) (0.65,10.09) (0.74,10) (0.65,9.91) (0.55,9.865) (0.45,9.9) (0.35,9.94) (0.2,9.98) (0.07,10)};
\addplot[vsol, fill=cCAN] coordinates {(0.85,10) (0.92,10.02) (0.96,10.1) (1.0,10.26) (1.04,10.12) (1.08,10.03) (1.14,10) (1.08,9.97) (1.04,9.88) (1.0,9.74) (0.96,9.9) (0.92,9.98) (0.85,10)};
\addplot[vdsh, fill=cCAN!40!white] coordinates {(0.93,9) (0.95,9.3) (0.97,9.44) (1.0,9.3) (1.03,9.15) (1.08,9) (1.03,8.85) (1.0,8.7) (0.97,8.56) (0.95,8.7) (0.93,9)};
\addplot[vsol, fill=cCAN] coordinates {(0.76,9) (0.82,9.03) (0.86,9.15) (0.91,9.34) (0.96,9.2) (1.0,9.08) (1.02,9) (1.0,8.92) (0.96,8.8) (0.91,8.66) (0.86,8.85) (0.82,8.97) (0.76,9)};
\addplot[vdsh, fill=cUS!40!white] coordinates {(1.05,8) (1.08,8.2) (1.15,8.34) (1.2,8.2) (1.25,8.05) (1.32,8) (1.25,7.95) (1.2,7.8) (1.15,7.66) (1.08,7.8) (1.05,8)};
\addplot[vsol, fill=cUS] coordinates {(0.79,8) (0.84,8.05) (0.87,8.25) (0.89,8.43) (0.91,8.3) (0.92,8.1) (0.925,8) (0.92,7.9) (0.91,7.7) (0.89,7.57) (0.87,7.75) (0.84,7.95) (0.79,8)};
\addplot[vdsh, fill=cUK!40!white] coordinates {(0.27,7) (0.4,7.02) (0.5,7.08) (0.64,7.22) (0.72,7.12) (0.81,7) (0.72,6.88) (0.64,6.78) (0.5,6.92) (0.4,6.98) (0.27,7)};
\addplot[vsol, fill=cUK] coordinates {(0.66,7) (0.72,7.04) (0.76,7.15) (0.8,7.28) (0.85,7.25) (0.89,7) (0.85,6.75) (0.8,6.72) (0.76,6.85) (0.72,6.96) (0.66,7)};
\addplot[vdsh, fill=cBE!40!white] coordinates {(0.13,6) (0.3,6.02) (0.45,6.06) (0.6,6.13) (0.72,6.08) (0.82,6) (0.72,5.92) (0.6,5.87) (0.45,5.94) (0.3,5.98) (0.13,6)};
\addplot[vsol, fill=cBE] coordinates {(0.27,6) (0.4,6.01) (0.5,6.05) (0.66,6.15) (0.73,6.08) (0.79,6) (0.73,5.92) (0.66,5.85) (0.5,5.95) (0.4,5.99) (0.27,6)};
\addplot[vdsh, fill=cCAN!40!white] coordinates {(0.5,5) (0.62,5.06) (0.77,5.17) (0.87,5.08) (0.97,5) (0.87,4.92) (0.77,4.83) (0.62,4.94) (0.5,5)};
\addplot[vsol, fill=cCAN] coordinates {(0.24,5) (0.4,5.01) (0.5,5.06) (0.66,5.16) (0.71,5.1) (0.74,5) (0.71,4.9) (0.66,4.84) (0.5,4.94) (0.4,4.99) (0.24,5)};
\addplot[vdsh, fill=cUS!40!white] coordinates {(0.38,4) (0.55,4.06) (0.7,4.155) (0.79,4) (0.7,3.845) (0.55,3.94) (0.38,4)};
\addplot[vsol, fill=cUS] coordinates {(0.19,4) (0.3,4.02) (0.45,4.06) (0.6,4.12) (0.65,4.135) (0.7,4.08) (0.75,4) (0.7,3.92) (0.65,3.865) (0.6,3.88) (0.45,3.94) (0.3,3.98) (0.19,4)};
\addplot[vdsh, fill=cDE!45!white] coordinates {(0.6,3) (0.65,3.12) (0.7,3.2) (0.78,3.12) (0.87,3) (0.78,2.88) (0.7,2.8) (0.65,2.88) (0.6,3)};
\addplot[vsol, fill=cDE] coordinates {(0.14,3) (0.3,3.02) (0.4,3.07) (0.5,3.16) (0.6,3.1) (0.7,3) (0.6,2.9) (0.5,2.84) (0.4,2.93) (0.3,2.98) (0.14,3)};
\addplot[vdsh, fill=cNZ!40!white] coordinates {(0.3,2) (0.45,2.04) (0.8,2.03) (1.42,2.035) (1.42,1.965) (0.8,1.97) (0.45,1.96) (0.3,2)};
\addplot[vsol, fill=cNZ] coordinates {(0,2.05) (0.1,2.09) (0.23,2.135) (0.35,2.06) (0.45,2) (0.35,1.94) (0.23,1.865) (0.1,1.91) (0,1.95)};
\addplot[vdsh, fill=cJP!35!white] coordinates {(0.5,1) (0.6,1.02) (0.7,1.08) (0.81,1.2) (0.9,1.1) (1.03,1) (0.9,0.9) (0.81,0.8) (0.7,0.92) (0.6,0.98) (0.5,1)};
\addplot[vsol, fill=cJP] coordinates {(0,1.1) (0.05,1.14) (0.09,1.16) (0.15,1.12) (0.22,1.05) (0.3,1.02) (0.43,1) (0.3,0.98) (0.22,0.95) (0.15,0.88) (0.09,0.84) (0.05,0.86) (0,0.9)};
\end{axis}
\node[anchor=base west, inner sep=0, font=\fontsize{19}{19}\selectfont\bfseries, text=titk] at (57pt,583pt) {A};
\node[anchor=base, inner sep=0, font=\fontsize{20}{20}\selectfont, text=txt] at (143.3pt,120pt) {Threshold ratio};
\foreach \yy/\la/\ca/\lb/\cb in {87.3/BE/cBE/CAN/cCAN, 59.7/DE/cDE/JP/cJP, 32/NZ/cNZ/SE/cSE, 7/UK/cUK/US/cUS}{
  \draw[draw=gray, line width=0.9pt, dash pattern=on 1.6pt off 1.2pt, fill=\ca] ([yshift=-7pt]82.2pt,\yy pt) rectangle ([yshift=7pt]96.2pt,\yy pt);
  \node[anchor=mid west, inner sep=0, font=\fontsize{14}{14}\selectfont, text=txt] at ([yshift=-1pt]109.5pt,\yy pt) {\la};
  \draw[draw=gray, line width=0.9pt, dash pattern=on 1.6pt off 1.2pt, fill=\cb] ([yshift=-7pt]142.2pt,\yy pt) rectangle ([yshift=7pt]156.2pt,\yy pt);
  \node[anchor=mid west, inner sep=0, font=\fontsize{14}{14}\selectfont, text=txt] at ([yshift=-1pt]171.5pt,\yy pt) {\lb};
}

% ================= PANEL B =================
\begin{axis}[panel, at={(341.5pt,605pt)}, ymax=15000, ytick={0,5000,10000,15000}]
\pproj{98}{15000}
\pvbar{4.8}{5.6}{11640}\pvbar{21.5}{23.7}{11640}
\pband{\qBo}{bandout}\pband{\qBi}{bandin}
\pmay{11640}
\pfb{\qBa}{va}\pfb{\qBb}{vb}\pfb{\qBc}{vc}\pfb{\qBd}{vd}\pfb{\qBe}{ve}\pfb{\qBf}{vf}
\pfl{\fBa}{va}\pfl{\fBb}{vb}\pfl{\fBc}{vc}\pfl{\fBd}{vd}\pfl{\fBe}{ve}\pfl{\fBf}{vf}
\pdl{\dB}
\end{axis}

% ================= PANEL C =================
\begin{axis}[panel, at={(646pt,605pt)}, ymax=3700, ytick={0,1000,2000,3000}]
\pproj{99}{3700}
\pvbar{3.4}{7}{2871}\pvbar{14.8}{23.8}{2871}
\pband{\qCo}{bandout}\pband{\qCi}{bandin}
\pmay{2871}
\pfb{\qCa}{va}\pfb{\qCb}{vb}\pfb{\qCc}{vc}\pfb{\qCd}{vd}\pfb{\qCe}{ve}\pfb{\qCf}{vf}
\pfl{\fCa}{va}\pfl{\fCb}{vb}\pfl{\fCc}{vc}\pfl{\fCd}{vd}\pfl{\fCe}{ve}\pfl{\fCf}{vf}
\pdl{\dC}
\end{axis}

% ================= PANEL D =================
\begin{axis}[panel, width=249.5pt, at={(950pt,605pt)}, ymax=1860, ytick={0,500,1000,1500}]
\pproj{98.6}{1860}
\pvbar{6.4}{8.7}{1443}\pvbar{22.8}{24.1}{1443}
\pband{\qDo}{bandout}\pband{\qDi}{bandin}
\pmay{1443}
\pfb{\qDa}{va}\pfb{\qDb}{vb}\pfb{\qDc}{vc}\pfb{\qDd}{vd}\pfb{\qDe}{ve}\pfb{\qDf}{vf}
\pfl{\fDa}{va}\pfl{\fDb}{vb}\pfl{\fDc}{vc}\pfl{\fDd}{vd}\pfl{\fDe}{ve}\pfl{\fDf}{vf}
\pdl{\dD}
\end{axis}

% ================= PANEL E =================
\begin{axis}[panel, at={(341.5pt,454pt)}, ymax=1060, ytick={0,200,400,600,800,1000}]
\pproj{98.8}{1060}
\pvbar{5.5}{8}{822}\pvbar{26}{27.2}{822}
\pband{\qEo}{bandout}\pband{\qEi}{bandin}
\pmay{822}
\pfb{\qEa}{va}\pfb{\qEb}{vb}\pfb{\qEc}{vc}\pfb{\qEd}{vd}\pfb{\qEe}{ve}\pfb{\qEf}{vf}
\pfl{\fEa}{va}\pfl{\fEb}{vb}\pfl{\fEc}{vc}\pfl{\fEd}{vd}\pfl{\fEe}{ve}\pfl{\fEf}{vf}
\pdl{\dE}
\end{axis}

% ================= PANEL F =================
\begin{axis}[panel, at={(646pt,454pt)}, ymax=1900, ytick={0,500,1000,1500}]
\pproj{94.4}{1900}
\pvbar{6.1}{7.8}{1474}\pvbar{13.4}{16.8}{1474}
\pband{\qFo}{bandout}\pband{\qFi}{bandin}
\pmay{1474}
\pfb{\qFa}{va}\pfb{\qFb}{vb}\pfb{\qFc}{vc}\pfb{\qFd}{vd}\pfb{\qFe}{ve}\pfb{\qFf}{vf}
\pfl{\fFa}{va}\pfl{\fFb}{vb}\pfl{\fFc}{vc}\pfl{\fFd}{vd}\pfl{\fFe}{ve}\pfl{\fFf}{vf}
\pdl{\dF}
\end{axis}

% ================= PANEL G =================
\begin{axis}[panel, width=249.5pt, at={(950pt,454pt)}, ymax=10000, ytick={0,2000,4000,6000,8000}]
\pproj{98.6}{10000}
\pvbar{8}{11}{7760}\pvbar{24.2}{25.8}{7760}
\pband{\qGo}{bandout}\pband{\qGi}{bandin}
\pmay{7760}
\pfb{\qGa}{va}\pfb{\qGb}{vb}\pfb{\qGc}{vc}\pfb{\qGd}{vd}\pfb{\qGe}{ve}\pfb{\qGf}{vf}
\pfl{\fGa}{va}\pfl{\fGb}{vb}\pfl{\fGc}{vc}\pfl{\fGd}{vd}\pfl{\fGe}{ve}\pfl{\fGf}{vf}
\pdl{\dG}
\end{axis}

% ================= PANEL H =================
\begin{axis}[panel, at={(341.5pt,303pt)}, ymax=3710, ytick={0,1000,2000,3000}]
\pproj{98.8}{3710}
\pvbar{7.2}{9.7}{2879}\pvbar{18.7}{22.5}{2879}
\pband{\qHo}{bandout}\pband{\qHi}{bandin}
\pmay{2879}
\pfb{\qHa}{va}\pfb{\qHb}{vb}\pfb{\qHc}{vc}\pfb{\qHd}{vd}\pfb{\qHe}{ve}\pfb{\qHf}{vf}
\pfl{\fHa}{va}\pfl{\fHb}{vb}\pfl{\fHc}{vc}\pfl{\fHd}{vd}\pfl{\fHe}{ve}\pfl{\fHf}{vf}
\pdl{\dH}
\end{axis}

% ================= PANEL I =================
\begin{axis}[panel, at={(646pt,303pt)}, ymax=156, ytick={0,50,100,150}]
\pproj{94.9}{156}
\pvbar{11.5}{18.8}{121}
\pband{\qIo}{bandout}\pband{\qIi}{bandin}
\pmay{121}
\pfb{\qIa}{va}\pfb{\qIb}{vb}\pfb{\qIc}{vc}\pfb{\qId}{vd}\pfb{\qIe}{ve}\pfb{\qIf}{vf}
\pfl{\fIa}{va}\pfl{\fIb}{vb}\pfl{\fIc}{vc}\pfl{\fId}{vd}\pfl{\fIe}{ve}\pfl{\fIf}{vf}
\pdl{\dI}
\end{axis}

% ================= PANEL J =================
\begin{axis}[panel, width=249.5pt, at={(950pt,303pt)}, ymax=24000, ytick={0,5000,10000,15000,20000}]
\pproj{98.6}{24000}
\pvbar{5.9}{7}{18620}\pvbar{21}{22.8}{18620}
\pband{\qJo}{bandout}\pband{\qJi}{bandin}
\pmay{18620}
\pfb{\qJa}{va}\pfb{\qJb}{vb}\pfb{\qJc}{vc}\pfb{\qJd}{vd}\pfb{\qJe}{ve}\pfb{\qJf}{vf}
\pfl{\fJa}{va}\pfl{\fJb}{vb}\pfl{\fJc}{vc}\pfl{\fJd}{vd}\pfl{\fJe}{ve}\pfl{\fJf}{vf}
\pdl{\dJ}
\end{axis}

% ================= PANEL K =================
\begin{axis}[panel, lastrow, at={(341.5pt,152pt)}, ymax=11100, ytick={0,5000,10000}]
\pproj{98.8}{11100}
\pvbar{8.7}{12.2}{8610}\pvbar{18}{20}{8610}
\pband{\qKo}{bandout}\pband{\qKi}{bandin}
\pmay{8610}
\pfb{\qKa}{va}\pfb{\qKb}{vb}\pfb{\qKc}{vc}\pfb{\qKd}{vd}\pfb{\qKe}{ve}\pfb{\qKf}{vf}
\pfl{\fKa}{va}\pfl{\fKb}{vb}\pfl{\fKc}{vc}\pfl{\fKd}{vd}\pfl{\fKe}{ve}\pfl{\fKf}{vf}
\pdl{\dK}
\end{axis}

% ================= PANEL L =================
\begin{axis}[panel, lastrow, at={(646pt,152pt)}, ymax=73.4, ytick={0,20,40,60}]
\pproj{75.2}{73.4}
\pvbar{15.1}{16.8}{57}\pvbar{22}{23.7}{57}
\pband{\qLo}{bandout}\pband{\qLi}{bandin}
\pmay{57}
\pfb{\qLd}{vd}\pfb{\qLe}{ve}\pfb{\qLf}{vf}
\pdl{\dL}
\end{axis}

% ================= PANEL M =================
\begin{axis}[panel, lastrow, width=249.5pt, at={(950pt,152pt)}, ymax=2714, ytick={0,500,1000,1500,2000,2500}]
\pproj{98.6}{2714}
\pvbar{20.7}{29.2}{2106}\pvbar{43.3}{47.4}{2106}
\pband{\qMo}{bandout}\pband{\qMi}{bandin}
\pmay{2106}
\pfb{\qMe}{ve}\pfb{\qMf}{vf}
\pfl{\fMe}{ve}\pfl{\fMf}{vf}
\pdl{\dM}
\end{axis}

\ptitle{341.5}{583.5}{B}{California}
\ptitle{646}{583.5}{C}{Sweden}
\ptitle{950}{583.5}{D}{Québec}
\ptitle{341.5}{432.5}{E}{Ontario}
\ptitle{646}{432.5}{F}{Washington}
\ptitle{950}{432.5}{G}{United Kingdom}
\ptitle{341.5}{281.5}{H}{Belgium}
\ptitle{646}{281.5}{I}{British Columbia}
\ptitle{950}{281.5}{J}{New York}
\ptitle{341.5}{130.5}{K}{Germany}
\ptitle{646}{130.5}{L}{New Zealand}
\ptitle{950}{130.5}{M}{Japan}

\node[rotate=90, inner sep=0, font=\fontsize{20}{20}\selectfont, text=txt] at (268pt,305pt) {Reported cases};

\node[anchor=base west, inner sep=0, font=\fontsize{14}{14}\selectfont, text=txt] at (1100pt,138pt) {Contact rate};
\node[anchor=base west, inner sep=0, font=\fontsize{14}{14}\selectfont, text=txt] at (1100pt,123pt) {increase};
\foreach \yy/\lab/\col in {106/2/vf, 91.7/1.8/ve, 77.4/1.6/vd, 63.1/1.4/vc, 48.8/1.2/vb, 34.5/1/va}{
  \draw[\col, line width=4pt] ([yshift=5pt]1101pt,\yy pt) -- ([yshift=5pt]1114pt,\yy pt);
  \node[anchor=base west, inner sep=0, font=\fontsize{14}{14}\selectfont, text=txt] at (1122pt,\yy pt) {\lab};
}
\end{tikzpicture}
\end{document}
